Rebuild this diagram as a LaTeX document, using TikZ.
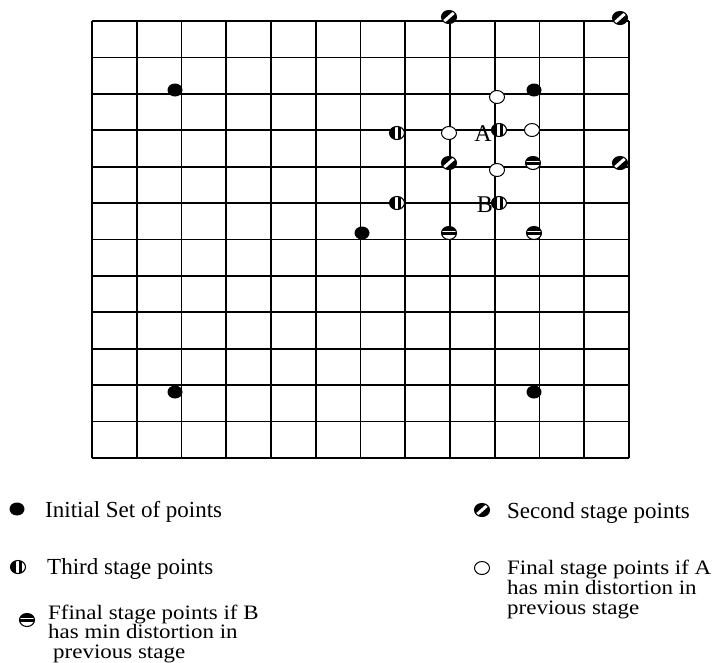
\documentclass[tikz,border=0pt]{standalone}
\usepackage{fontspec}
\setmainfont{Liberation Serif}
\usetikzlibrary{shapes.geometric}
\newcommand{\wide}[1]{\scalebox{1.12}[1]{#1}}
\tikzset{
  gridline/.style={line width=1.7pt, black},
  mk/.style={ellipse, minimum width=15pt, minimum height=13pt, inner sep=0pt},
  initpt/.style={mk, fill=black},
  secondpt/.style={mk, draw=black, line width=1.1pt, fill=white, path picture={
     \fill[black] (path picture bounding box.south west) rectangle (path picture bounding box.north east);
     \draw[white, line width=3pt] ([xshift=-1pt,yshift=-1pt]path picture bounding box.south west) -- ([xshift=1pt,yshift=1pt]path picture bounding box.north east);}},
  thirdpt/.style={mk, draw=black, line width=1.1pt, fill=white, path picture={
     \fill[black] (path picture bounding box.south west) rectangle ([xshift=-2pt]path picture bounding box.north);
     \fill[black] ([xshift=0.8pt]path picture bounding box.south) rectangle ([xshift=3.5pt]path picture bounding box.north);}},
  finalBpt/.style={mk, draw=black, line width=1.1pt, fill=white, path picture={
     \fill[black] (path picture bounding box.north west) rectangle ([yshift=2.5pt]path picture bounding box.east);
     \fill[black] ([yshift=1pt]path picture bounding box.west) rectangle ([yshift=-1.5pt]path picture bounding box.east);}},
  finalApt/.style={mk, draw=black, line width=1pt, fill=white},
  txt/.style={font=\fontsize{23pt}{20pt}\selectfont, inner sep=0pt, anchor=base west},
  txtm/.style={font=\fontsize{20.5pt}{20pt}\selectfont, inner sep=0pt, anchor=base west},
  lbl/.style={font=\fontsize{24pt}{20pt}\selectfont, inner sep=0pt, anchor=base east},
}
\begin{document}
\begin{tikzpicture}[x=1pt, y=-1pt]
\path[use as bounding box] (0,0) rectangle (726,662);
% grid
\foreach \i in {0,...,12} \draw[gridline] ({92+44.75*\i},21) -- ({92+44.75*\i},458);
\foreach \j in {0,...,12} \draw[gridline] (92,{21+36.417*\j}) -- (629,{21+36.417*\j});
% initial points
\node[initpt] (i1) at (175,90) {};
\node[initpt] (i2) at (362,233) {};
\node[initpt] (i3) at (534,90) {};
\node[initpt] (i4) at (175,392) {};
\node[initpt] (i5) at (534,392) {};
% second stage
\node[secondpt] (s1) at (449,17) {};
\node[secondpt] (s2) at (620,18) {};
\node[secondpt] (s3) at (449,163) {};
\node[secondpt] (s4) at (620,163) {};
% third stage
\node[thirdpt] (t1) at (397,133) {};
\node[thirdpt] (t2) at (499,130) {};
\node[thirdpt] (t3) at (397,203) {};
\node[thirdpt] (t4) at (499,203) {};
% final A
\node[finalApt] (a1) at (497,97) {};
\node[finalApt] (a2) at (449,133) {};
\node[finalApt] (a3) at (532,130) {};
\node[finalApt] (a4) at (497,170) {};
% final B
\node[finalBpt] (b1) at (533,163) {};
\node[finalBpt] (b2) at (449,233) {};
\node[finalBpt] (b3) at (534,233) {};
% labels A and B
\node[lbl] (labA) at (492,141) {A};
\node[lbl] (labB) at (493,212) {B};
% legend
\node[initpt] (li) at (17,509) {};
\node[txt] (ti) at (45,517) {Initial Set of points};
\node[thirdpt] (lt) at (18,567) {};
\node[txt] (tt) at (47,574) {Third stage points};
\node[finalBpt] (lb) at (27,620) {};
\node[txtm] (tb1) at (48,619) {\wide{Ffinal stage points if B}};
\node[txtm] (tb2) at (48,638.5) {\wide{has min distortion in}};
\node[txtm] (tb3) at (53,658) {\wide{previous stage}};
\node[secondpt] (ls) at (482,510) {};
\node[txt] (ts) at (507,518) {Second stage points};
\node[finalApt] (la) at (482,568) {};
\node[txtm] (ta1) at (507,574) {\wide{Final stage points if A}};
\node[txtm] (ta2) at (507,594) {\wide{has min distortion in}};
\node[txtm] (ta3) at (507,614) {\wide{previous stage}};
\end{tikzpicture}
\end{document}
